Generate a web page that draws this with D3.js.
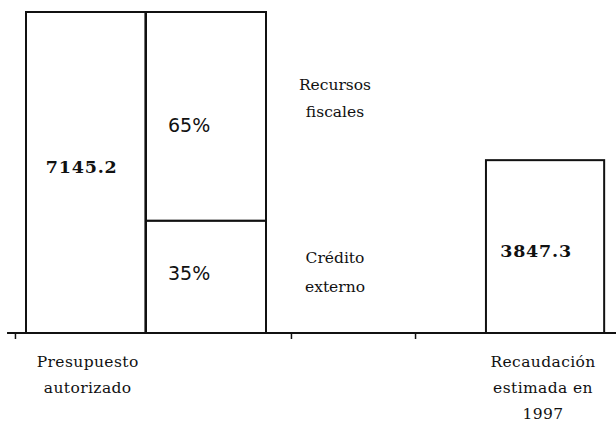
<!DOCTYPE html>
<html>
<head>
<meta charset="utf-8">
<script src="https://cdn.jsdelivr.net/npm/d3@7"></script>
<style>
  html, body { margin: 0; padding: 0; background: #fff; }
  svg { display: block; }
</style>
</head>
<body>
<svg id="chart" width="616" height="424"></svg>
<script>
// ---- data ----
const categories = ["Presupuesto autorizado", "Recaudación estimada en 1997"];
const totals = [7145.2, 3847.3];
const valueLabels = ["7145.2", "3847.3"];
const shareNames = ["Recursos fiscales", "Crédito externo"];
const shareValues = [65, 35];
const shareLabels = ["65%", "35%"];

// ---- layout ----
const W = 616, H = 424;
const baseY = 333, topY = 12;
const slot = { pres: 0, comp: 1, rec: 3.833 };
const barSlots = [0.995, 0.985];
const tickSlots = [-0.092, 2.208, 3.242];

const svg = d3.select("#chart");

const y = d3.scaleLinear().domain([0, d3.max(totals)]).range([baseY, topY]);
const x = d3.scaleLinear().domain([0, 1]).range([26, 146]);

const ink = "#111";

// axis
const axis = d3.axisBottom(x).tickValues(tickSlots).tickSize(6).tickFormat("");
const gAxis = svg.append("g").attr("transform", `translate(0,${baseY})`).call(axis);
gAxis.select(".domain").remove();
gAxis.selectAll(".tick line").attr("stroke", ink).attr("stroke-width", 1.5);
svg.append("line")
  .attr("x1", x(-0.158)).attr("x2", W)
  .attr("y1", baseY).attr("y2", baseY)
  .attr("stroke", ink).attr("stroke-width", 2.2);

// main bars
const barData = [
  { name: categories[0], value: totals[0], label: valueLabels[0], s: slot.pres, w: barSlots[0], dx: -4 },
  { name: categories[1], value: totals[1], label: valueLabels[1], s: slot.rec, w: barSlots[1], dx: -9 }
];

svg.selectAll("rect.bar").data(barData).enter().append("rect")
  .attr("class", "bar")
  .attr("x", d => x(d.s))
  .attr("y", d => y(d.value))
  .attr("width", d => x(d.s + d.w) - x(d.s))
  .attr("height", d => baseY - y(d.value))
  .attr("fill", "#fff").attr("stroke", ink).attr("stroke-width", 2);

// stacked composition bar
const stackScale = d3.scaleLinear().domain([0, d3.sum(shareValues)]).range([baseY, y(totals[0])]);
let acc = 0;
const segs = [];
for (let i = shareValues.length - 1; i >= 0; i--) {
  segs.push({ name: shareNames[i], value: shareValues[i], label: shareLabels[i], y0: acc, y1: acc + shareValues[i] });
  acc += shareValues[i];
}
svg.selectAll("rect.seg").data(segs).enter().append("rect")
  .attr("class", "seg")
  .attr("x", x(slot.comp))
  .attr("y", d => stackScale(d.y1))
  .attr("width", x(slot.comp + 1) - x(slot.comp))
  .attr("height", d => stackScale(d.y0) - stackScale(d.y1))
  .attr("fill", "#fff").attr("stroke", ink).attr("stroke-width", 2);

// percentage labels
svg.selectAll("text.pct").data(segs).enter().append("text")
  .attr("class", "pct")
  .attr("x", x(slot.comp) + 22)
  .attr("y", d => d.label === "65%" ? (stackScale(d.y1) + stackScale(d.y0)) / 2 + 16 : (stackScale(d.y1) + stackScale(d.y0)) / 2 + 3)
  .attr("font-family", "DejaVu Sans, sans-serif")
  .attr("font-size", 19)
  .attr("fill", ink)
  .text(d => d.label);

// share names to the right of the composition bar
const nameX = 335;
segs.forEach(d => {
  const words = d.name.split(" ");
  const isTop = d.value === shareValues[0];
  const by = isTop ? 90 : 263;
  const lh = isTop ? 27 : 29;
  const t = svg.append("text")
    .attr("text-anchor", "middle")
    .attr("font-family", "DejaVu Serif, serif")
    .attr("font-size", 15.5)
    .attr("fill", ink);
  words.forEach((w, i) => {
    t.append("tspan").attr("x", nameX).attr("y", by + i * lh).text(w);
  });
});

// value labels
svg.selectAll("text.val").data(barData).enter().append("text")
  .attr("class", "val")
  .attr("x", d => (x(d.s) + x(d.s + d.w)) / 2 + d.dx)
  .attr("y", (d, i) => i === 0 ? 173 : 257)
  .attr("text-anchor", "middle")
  .attr("font-family", "DejaVu Serif, serif")
  .attr("font-weight", "bold")
  .attr("font-size", 17.5)
  .attr("letter-spacing", 0.8)
  .attr("fill", ink)
  .text(d => d.label);

// category labels
const catLines = [["Presupuesto", "autorizado"], ["Recaudación", "estimada en", "1997"]];
barData.forEach((d, i) => {
  const cx = (x(d.s) + x(d.s + d.w)) / 2 + (i === 0 ? 2 : -2);
  const t = svg.append("text")
    .attr("text-anchor", "middle")
    .attr("font-family", "DejaVu Serif, serif")
    .attr("font-size", 15.5)
    .attr("letter-spacing", 0.4)
    .attr("fill", ink);
  catLines[i].forEach((line, j) => {
    t.append("tspan").attr("x", cx).attr("y", 367 + j * 26).text(line);
  });
});
</script>
</body>
</html>
